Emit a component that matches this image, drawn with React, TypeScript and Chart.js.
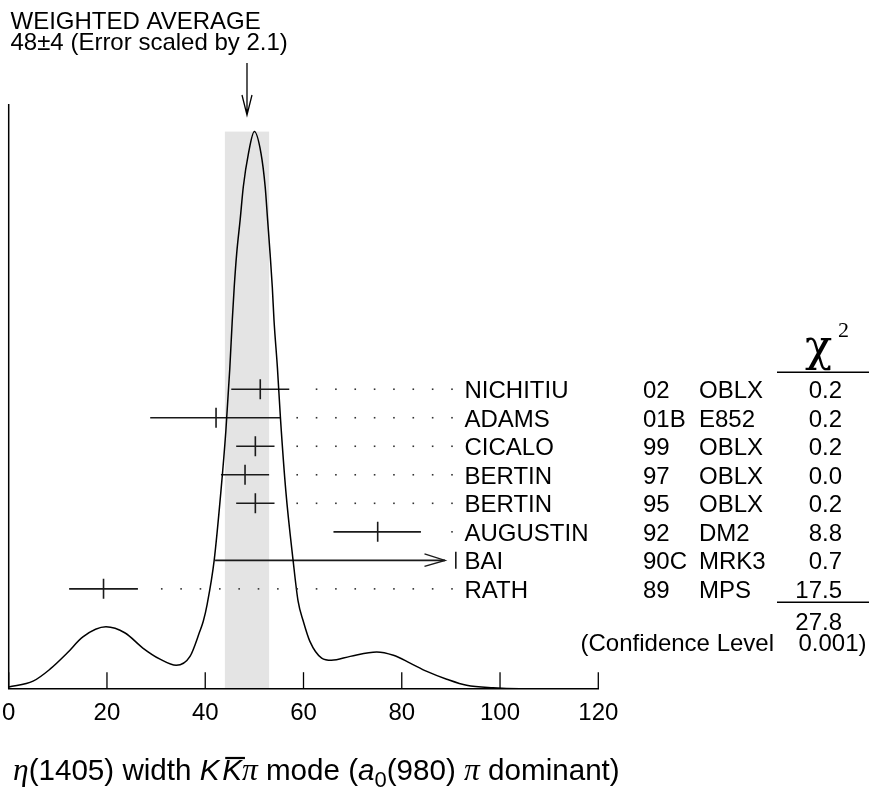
import React, { useEffect, useRef } from 'react';
import { Chart, registerables } from 'chart.js';

Chart.register(...registerables);

// ---- Ideogram curve ----
const curveX = [0, 4.95, 8.4, 11.9, 15.1, 19.8, 23.7, 27.3, 30.8, 34.1, 36.9, 38.9, 39.6, 40.4, 41.8, 43.2, 44.2, 45.0, 45.5, 45.9, 46.4, 47.1, 47.75, 48.8, 50.0, 51.35, 52.2, 52.7, 53.2, 53.65, 54.0, 54.7, 55.3, 56.4, 57.9, 58.9, 59.96, 61.3, 63.7, 65.7, 69.5, 74.9, 78.3, 81.7, 85.1, 89.15, 93.2, 98.6, 104, 120];
const curveY = [0.003, 0.0135, 0.035, 0.064, 0.093, 0.111, 0.1, 0.073, 0.053, 0.042, 0.058, 0.103, 0.121, 0.152, 0.229, 0.355, 0.463, 0.575, 0.661, 0.721, 0.781, 0.841, 0.901, 0.961, 1.0, 0.961, 0.901, 0.841, 0.781, 0.721, 0.661, 0.575, 0.487, 0.355, 0.229, 0.157, 0.121, 0.085, 0.055, 0.051, 0.058, 0.066, 0.06, 0.046, 0.031, 0.017, 0.006, 0.0015, 0, 0];

// ---- Measurements ----
const names = ['NICHITIU', 'ADAMS', 'CICALO', 'BERTIN', 'BERTIN', 'AUGUSTIN', 'BAI', 'RATH'];
const years = ['02', '01B', '99', '97', '95', '92', '90C', '89'];
const expts = ['OBLX', 'E852', 'OBLX', 'OBLX', 'OBLX', 'DM2', 'MRK3', 'MPS'];
const values = [51.2, 42.2, 50.2, 48.1, 50.2, 75.1, 91, 19.3];
const errLo = [5.9, 13.4, 3.9, 4.9, 3.9, 9.0, 49, 7.0];
const errHi = [5.9, 13.2, 3.9, 4.9, 3.9, 8.8, 69, 7.0];
const chi2 = ['0.2', '0.2', '0.2', '0.0', '0.2', '8.8', '0.7', '17.5'];
const chi2Total = '27.8';
const confidenceLevel = '0.001';

// ---- Average ----
const avgValue = 48.5;
const avgError = 4.5;
const titleLines = ['WEIGHTED AVERAGE', '48\u00b14 (Error scaled by 2.1)'];

// ---- Axis ----
const xMin = 0;
const xMax = 120;
const xStep = 20;
const plotLimit = 88.8; // error bars beyond this are drawn as arrows

const SANS = '"Liberation Sans", Arial, Helvetica, sans-serif';
const SERIF = '"Liberation Serif", "Times New Roman", serif';

export default function App() {
  const canvasRef = useRef<HTMLCanvasElement | null>(null);

  useEffect(() => {
    const canvas = canvasRef.current;
    if (!canvas) return;

    const curveData = curveX.map((x, i) => ({ x, y: curveY[i] }));
    const errDatasets = values.map((v, i) => ({
      type: 'line' as const,
      data: [
        { x: v - errLo[i], y: i },
        { x: Math.min(v + errHi[i], plotLimit), y: i },
      ],
      yAxisID: 'yRows',
      borderColor: '#1a1a1a',
      borderWidth: 1.6,
      pointRadius: 0,
      pointHoverRadius: 0,
      fill: false,
    }));
    const centerDataset = {
      type: 'scatter' as const,
      data: values.map((v, i) => ({ x: v, y: i })),
      yAxisID: 'yRows',
      showLine: false,
      pointStyle: 'line',
      pointRotation: 90,
      pointRadius: values.map((v) => (v > plotLimit ? 8.5 : 10)),
      pointHoverRadius: values.map((v) => (v > plotLimit ? 8.5 : 10)),
      pointBorderColor: '#1a1a1a',
      pointBackgroundColor: '#1a1a1a',
      pointBorderWidth: 1.6,
    };

    const decor = {
      id: 'ideogramDecor',
      beforeDraw(chart: any) {
        const ctx = chart.ctx;
        const xs = chart.scales.x;
        const ys = chart.scales.y;
        const area = chart.chartArea;
        const l = xs.getPixelForValue(avgValue - avgError);
        const r = xs.getPixelForValue(avgValue + avgError);
        const top = ys.getPixelForValue(Math.max(...curveY));
        ctx.save();
        ctx.fillStyle = '#e4e4e4';
        ctx.fillRect(l, top, r - l, area.bottom - top);
        ctx.restore();
      },
      afterDraw(chart: any) {
        const ctx = chart.ctx;
        const xs = chart.scales.x;
        const rs = chart.scales.yRows;
        const area = chart.chartArea;
        ctx.save();
        ctx.strokeStyle = '#000';
        ctx.fillStyle = '#000';

        // y axis line
        ctx.lineWidth = 1.5;
        ctx.beginPath();
        ctx.moveTo(area.left, area.top);
        ctx.lineTo(area.left, area.bottom);
        ctx.stroke();

        // tick marks (pointing up)
        ctx.lineWidth = 1.3;
        xs.ticks.forEach((t: any) => {
          const px = xs.getPixelForValue(t.value);
          ctx.beginPath();
          ctx.moveTo(px, area.bottom);
          ctx.lineTo(px, area.bottom - 16.5);
          ctx.stroke();
        });

        const labelX = 464.5;

        // leaders and arrows
        values.forEach((v, i) => {
          const y = rs.getPixelForValue(i);
          const hi = Math.min(v + errHi[i], plotLimit);
          const rightPx = xs.getPixelForValue(hi);
          ctx.fillStyle = '#333';
          for (let k = 0; k < 40; k++) {
            const dx = labelX - 12.5 - 19.35 * k;
            if (dx < area.left + 5) break;
            if (dx > rightPx + 14) ctx.fillRect(dx - 0.8, y - 0.8, 1.6, 1.6);
          }
          if (v + errHi[i] > plotLimit) {
            ctx.strokeStyle = '#1a1a1a';
            ctx.lineWidth = 1.4;
            ctx.beginPath();
            ctx.moveTo(rightPx - 20.5, y - 6.5);
            ctx.lineTo(rightPx, y);
            ctx.lineTo(rightPx - 20.5, y + 6);
            ctx.stroke();
          }
        });

        // weighted average arrow
        const ax = xs.getPixelForValue(avgValue);
        ctx.strokeStyle = '#000';
        ctx.lineWidth = 1.3;
        ctx.beginPath();
        ctx.moveTo(ax, 63);
        ctx.lineTo(ax, 115);
        ctx.moveTo(ax - 5, 95);
        ctx.lineTo(ax, 115);
        ctx.lineTo(ax + 5, 95);
        ctx.stroke();

        // title
        ctx.fillStyle = '#000';
        ctx.textBaseline = 'alphabetic';
        ctx.textAlign = 'left';
        ctx.font = `24px ${SANS}`;
        ctx.fillText(titleLines[0], 10.5, 28.5);
        ctx.fillText(titleLines[1], 10.5, 50);

        // table
        names.forEach((n, i) => {
          const y = rs.getPixelForValue(i) + 9;
          ctx.textAlign = 'left';
          ctx.fillText(n, labelX, y);
          ctx.fillText(years[i], 643, y);
          ctx.fillText(expts[i], 699, y);
          ctx.textAlign = 'right';
          ctx.fillText(chi2[i], 842, y);
        });
        ctx.textAlign = 'right';
        ctx.fillText(chi2Total, 842, 630);
        ctx.fillText(confidenceLevel + ')', 866.5, 651);
        ctx.fillText('(Confidence Level', 774, 651);

        // chi^2 header
        ctx.textAlign = 'left';
        ctx.font = `45px "DejaVu Serif", ${SERIF}`;
        ctx.fillText('\u03c7', 805, 361);
        ctx.font = `22px ${SERIF}`;
        ctx.fillText('2', 838, 337);

        ctx.lineWidth = 1.5;
        ctx.beginPath();
        ctx.moveTo(777, 372.3);
        ctx.lineTo(869, 372.3);
        ctx.moveTo(777, 602.3);
        ctx.lineTo(869, 602.3);
        ctx.stroke();

        // x-axis title with math
        const base = 780;
        const sans = `29.6px ${SANS}`;
        const sansIt = `italic 29.6px ${SANS}`;
        const serIt = `italic 31.5px ${SERIF}`;
        const runs: any[] = [
          { t: '\u03b7', f: serIt },
          { t: '(1405) width ', f: sans },
          { t: 'K', f: sansIt },
          { t: ' ', f: `10px ${SANS}` },
          { t: 'K', f: sansIt, over: true },
          { t: '\u03c0', f: serIt },
          { t: ' mode (', f: sans },
          { t: 'a', f: sansIt },
          { t: '0', f: `22px ${SANS}`, dy: 7 },
          { t: '(980) ', f: sans },
          { t: '\u03c0', f: serIt },
          { t: ' dominant)', f: sans },
        ];
        let cx = 13;
        ctx.textAlign = 'left';
        runs.forEach((r) => {
          ctx.font = r.f;
          const w = ctx.measureText(r.t).width;
          ctx.fillText(r.t, cx, base + (r.dy || 0));
          if (r.over) {
            ctx.lineWidth = 2.2;
            ctx.beginPath();
            ctx.moveTo(cx + 3, 758);
            ctx.lineTo(cx + w + 3, 758);
            ctx.stroke();
          }
          cx += w;
        });

        ctx.restore();
      },
    };

    const chart = new Chart(canvas, {
      type: 'line',
      data: {
        datasets: [
          {
            type: 'line',
            data: curveData,
            yAxisID: 'y',
            borderColor: '#000',
            borderWidth: 1.5,
            pointRadius: 0,
            pointHoverRadius: 0,
            fill: false,
            cubicInterpolationMode: 'monotone',
          },
          ...errDatasets,
          centerDataset,
        ] as any,
      },
      options: {
        responsive: false,
        maintainAspectRatio: false,
        animation: false,
        events: [],
        layout: { autoPadding: false, padding: { left: 8.7, right: 270.7, top: 104, bottom: 50.5 } },
        plugins: {
          legend: { display: false },
          tooltip: { enabled: false },
          title: { display: false },
        },
        scales: {
          x: {
            type: 'linear',
            axis: 'x',
            position: 'bottom',
            min: xMin,
            max: xMax,
            offset: false,
            grid: { display: false, drawTicks: false },
            border: { display: true, color: '#000', width: 1.5 },
            ticks: {
              stepSize: xStep,
              padding: 10.5,
              color: '#000',
              font: { family: SANS, size: 24 },
              maxRotation: 0,
              autoSkip: false,
            },
            afterFit: (scale: any) => {
              scale.paddingLeft = 0;
              scale.paddingRight = 0;
            },
          },
          y: {
            type: 'linear',
            axis: 'y',
            display: false,
            min: 0,
            max: 1.0495,
          },
          yRows: {
            type: 'linear',
            axis: 'y',
            display: false,
            reverse: true,
            min: -10,
            max: 10.5,
          },
        },
      } as any,
      plugins: [decor],
    });

    return () => chart.destroy();
  }, []);

  return (
    <div style={{ position: 'fixed', left: 0, top: 0, width: 869, height: 789, background: '#fff' }}>
      <canvas ref={canvasRef} width={869} height={789} style={{ display: 'block' }} />
    </div>
  );
}
